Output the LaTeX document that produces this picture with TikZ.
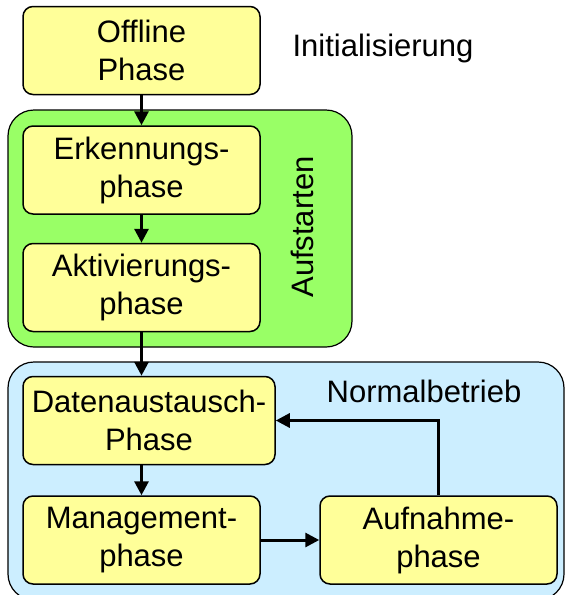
\documentclass[tikz,border=0pt]{standalone}
\usepackage{fontspec}
\setmainfont{Liberation Sans}
\usetikzlibrary{arrows.meta}

\definecolor{gelb}{HTML}{FFFF99}
\definecolor{gruen}{HTML}{99FF66}
\definecolor{hellblau}{HTML}{CCEEFF}

\tikzset{
  phase/.style={draw=black, line width=1.5pt, fill=gelb, rounded corners=10pt,
    minimum width=237pt, minimum height=88pt, align=center, inner sep=2pt,
    font=\fontsize{31}{38}\selectfont},
  gruppe/.style={draw=black, line width=1.2pt, rounded corners=26pt},
  pfeil/.style={line width=3pt, -{Triangle[length=14pt,width=14pt]}},
  titel/.style={font=\fontsize{31}{36}\selectfont}
}

\begin{document}
\begin{tikzpicture}[x=1pt, y=-1pt]
  \useasboundingbox (0,0) rectangle (566,595);
  % Gruppen
  \draw[gruppe, fill=gruen] (8,110) rectangle (352,347);
  \draw[gruppe, fill=hellblau] (8,362) rectangle (564,600);

  % Phasen
  \node[phase] (offline) at (141.5,50.5) {Offline\\Phase};
  \node[phase] (erkennung) at (141.5,170) {Erkennungs-\\phase};
  \node[phase] (aktivierung) at (141.5,287.5) {Aktivierungs-\\phase};
  \node[phase, minimum width=252pt] (austausch) at (149,420.5) {Datenaustausch-\\Phase};
  \node[phase] (management) at (141.5,540) {Management-\\phase};
  \node[phase] (aufnahme) at (438.5,540) {Aufnahme-\\phase};

  \node[titel] (init) at (383,48) {Initialisierung};
  \node[titel, rotate=90] (aufstarten) at (302,227) {Aufstarten};
  \node[titel] (normal) at (424,391) {Normalbetrieb};

  % Pfeile
  \draw[pfeil] (offline) -- (erkennung);
  \draw[pfeil] (erkennung) -- (aktivierung);
  \draw[pfeil] (aktivierung.south) -- (aktivierung.south |- austausch.north);
  \draw[pfeil] (management.north |- austausch.south) -- (management.north);
  \draw[pfeil] (management) -- (aufnahme);
  \draw[pfeil] (aufnahme.north) |- (austausch.east);
\end{tikzpicture}
\end{document}
